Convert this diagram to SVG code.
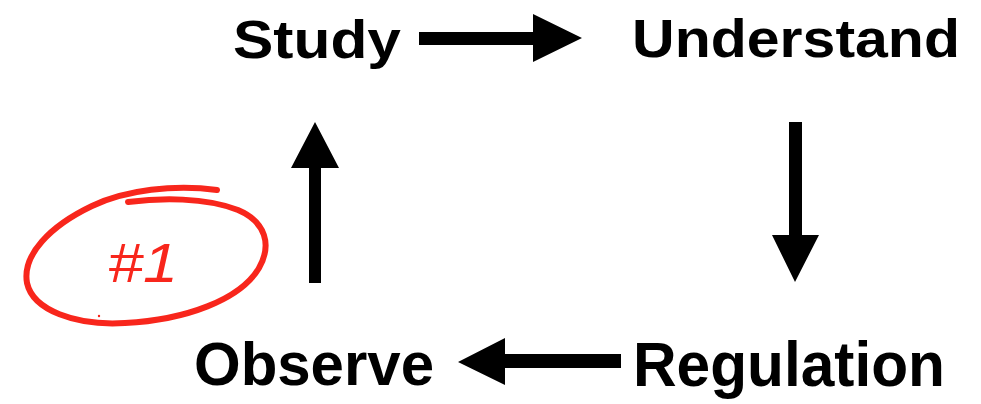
<svg xmlns="http://www.w3.org/2000/svg" width="981" height="404" viewBox="0 0 981 404">
<style>
.lbl{font-family:"Liberation Sans",Arial,Helvetica,sans-serif;font-weight:bold;fill:#000}
.arr{fill:#000;stroke:none}
.mark{fill:none;stroke:#f8261c;stroke-width:6;stroke-linecap:round;stroke-linejoin:round}
.num{font-family:"Liberation Sans",Arial,sans-serif;fill:#f8261c}
</style>
<rect width="981" height="404" fill="#fff"/>
<g id="node-study"><text class="lbl" x="233" y="58" font-size="53" textLength="168" lengthAdjust="spacingAndGlyphs">Study</text></g>
<g id="node-understand"><text class="lbl" x="632" y="57" font-size="54" textLength="328" lengthAdjust="spacingAndGlyphs">Understand</text></g>
<g id="node-regulation"><text class="lbl" x="633" y="386" font-size="63" textLength="312" lengthAdjust="spacingAndGlyphs">Regulation</text></g>
<g id="node-observe"><text class="lbl" x="194" y="385" font-size="61" textLength="240" lengthAdjust="spacingAndGlyphs">Observe</text></g>
<g id="connectors">
<polygon class="arr" points="419,32 533,32 533,14 582,38 533,62 533,45 419,45"/>
<polygon class="arr" points="789,122 802,122 802,235 819,235 795,282 772,235 789,235"/>
<polygon class="arr" points="621,354 505,354 505,338 458,362 505,385 505,368 621,368"/>
<polygon class="arr" points="309,283 309,168 291,168 315,122 339,168 321,168 321,283"/>
</g>
<g id="annotation">
<path class="mark" d="M217,190 C175,184 125,190 92,206 C50,226 22,255 27,283 C33,310 75,326 125,323 C185,320 240,300 259,268 C272,245 266,222 238,210 C205,197 160,198 128,202"/>
<text class="num" x="108" y="282" font-size="55" font-style="italic" textLength="70" lengthAdjust="spacingAndGlyphs">#1</text>
<circle cx="99" cy="316" r="1.2" fill="#f8261c"/>
</g>
</svg>
